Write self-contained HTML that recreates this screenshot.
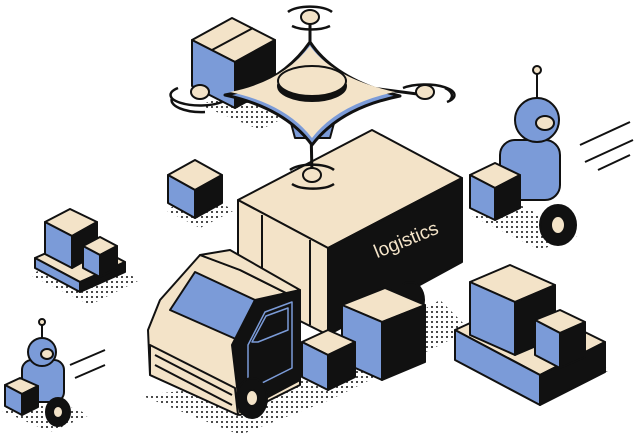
<!DOCTYPE html>
<html><head><meta charset="utf-8"><style>
html,body{margin:0;padding:0;background:#fff;width:635px;height:439px;overflow:hidden}
svg{display:block}
</style></head><body>
<svg width="635" height="439" viewBox="0 0 635 439" xmlns="http://www.w3.org/2000/svg" stroke="#111" stroke-width="2" stroke-linejoin="round">
<defs>
<pattern id="d" width="5" height="5" patternUnits="userSpaceOnUse"><circle cx="2" cy="2" r="1" fill="#111" stroke="none"/></pattern>
</defs>
<g stroke="none" fill="url(#d)">
<polygon points="30,275 90,305 140,280 80,250"/>
<polygon points="470,365 540,405 610,370 540,330"/>
<polygon points="140,395 240,435 330,400 470,330 440,300 300,380"/>
<polygon points="165,210 200,228 235,210 200,195"/>
<polygon points="470,215 540,250 580,235 520,205"/>
<polygon points="0,410 50,432 90,415 40,395"/>
<polygon points="200,105 260,130 300,110 240,90"/>
</g>
<!-- left pallet boxes -->
<polygon points="35,258 80,282 125,262 80,238" fill="#f3e3c8"/>
<polygon points="35,258 80,282 80,292 35,268" fill="#7b9bd8"/>
<polygon points="80,282 125,262 125,272 80,292" fill="#111"/>
<polygon points="45,222 70,209 97,222 72,236" fill="#f3e3c8"/>
<polygon points="45,222 72,236 72,268 45,254" fill="#7b9bd8"/>
<polygon points="72,236 97,222 97,254 72,268" fill="#111"/>
<polygon points="83,246 100,237 117,246 100,255" fill="#f3e3c8"/>
<polygon points="83,246 100,255 100,277 83,268" fill="#7b9bd8"/>
<polygon points="100,255 117,246 117,268 100,277" fill="#111"/>
<!-- small box -->
<polygon points="168,175 195,160 222,175 195,190" fill="#f3e3c8"/>
<polygon points="168,175 195,190 195,218 168,203" fill="#7b9bd8"/>
<polygon points="195,190 222,175 222,203 195,218" fill="#111"/>
<!-- truck body -->
<polygon points="238,200 372,130 462,178 328,248" fill="#f3e3c8"/>
<polygon points="238,200 328,248 328,335 238,290" fill="#f3e3c8"/>
<polygon points="328,248 462,178 462,262 328,335" fill="#111"/>
<line x1="262" y1="215" x2="262" y2="300"/><line x1="310" y1="240" x2="310" y2="325"/>
<text x="370" y="248" fill="#f3e3c8" stroke="none" font-family="Liberation Sans, sans-serif" font-size="19" transform="rotate(-22 400 235)">logistics</text>
<ellipse cx="410" cy="300" rx="14" ry="18" fill="#111"/>
<!-- cab -->
<polygon points="160,300 200,255 240,270 300,300 300,385 240,415 150,375 148,330" fill="#f3e3c8"/>
<polygon points="170,310 195,272 255,300 238,340" fill="#7b9bd8"/>
<polygon points="200,255 230,250 300,290 300,300 240,270" fill="#f3e3c8"/>
<polygon points="232,345 255,300 300,290 300,380 240,412" fill="#111"/>
<polygon points="248,345 265,312 292,302 292,368 248,390" fill="none" stroke="#7b9bd8" stroke-width="1.5"/>
<polygon points="252,342 266,316 288,308 288,330 258,342" fill="#111" stroke="#7b9bd8" stroke-width="1.5"/>
<polygon points="150,345 235,388 238,415 150,375" fill="#f3e3c8"/>
<line x1="155" y1="355" x2="232" y2="395"/><line x1="155" y1="365" x2="232" y2="405"/>
<ellipse cx="252" cy="398" rx="15" ry="20" fill="#111"/><ellipse cx="252" cy="398" rx="6" ry="8" fill="#f3e3c8"/>
<!-- front boxes -->
<polygon points="342,305 385,288 425,305 382,322" fill="#f3e3c8"/>
<polygon points="342,305 382,322 382,380 342,362" fill="#7b9bd8"/>
<polygon points="382,322 425,305 425,362 382,380" fill="#111"/>
<polygon points="302,342 328,330 355,342 328,355" fill="#f3e3c8"/>
<polygon points="302,342 328,355 328,390 302,377" fill="#7b9bd8"/>
<polygon points="328,355 355,342 355,377 328,390" fill="#111"/>
<!-- right pallet -->
<polygon points="455,330 540,375 605,342 520,300" fill="#f3e3c8"/>
<polygon points="455,330 540,375 540,405 455,360" fill="#7b9bd8"/>
<polygon points="540,375 605,342 605,372 540,405" fill="#111"/>
<polygon points="470,282 510,265 555,285 515,302" fill="#f3e3c8"/>
<polygon points="470,282 515,302 515,355 470,335" fill="#7b9bd8"/>
<polygon points="515,302 555,285 555,338 515,355" fill="#111"/>
<polygon points="535,320 560,310 585,322 560,333" fill="#f3e3c8"/>
<polygon points="535,320 560,333 560,368 535,355" fill="#7b9bd8"/>
<polygon points="560,333 585,322 585,357 560,368" fill="#111"/>
<!-- drone -->
<g stroke-width="3">
<line x1="310" y1="80" x2="200" y2="95"/><line x1="310" y1="80" x2="425" y2="95"/>
<line x1="310" y1="80" x2="310" y2="20"/><line x1="310" y1="80" x2="312" y2="175"/>
</g>
<polygon points="192,40 232,18 275,40 235,62" fill="#f3e3c8"/>
<polygon points="192,40 235,62 235,108 192,86" fill="#7b9bd8"/>
<polygon points="235,62 275,40 275,86 235,108" fill="#111"/>
<line x1="212" y1="50" x2="253" y2="28"/>
<polygon points="288,112 337,112 330,138 295,138" fill="#7b9bd8"/>
<path d="M225,95 Q280,85 310,42 Q335,80 400,96 Q340,108 312,145 Q285,108 225,95 Z" fill="#7b9bd8" stroke-width="3"/>
<path d="M230,92 Q282,82 310,46 Q333,78 395,92 Q338,104 312,138 Q286,104 230,92 Z" fill="#f3e3c8" stroke="none"/>
<ellipse cx="312" cy="86" rx="34" ry="15" fill="#111"/>
<ellipse cx="312" cy="81" rx="34" ry="15" fill="#f3e3c8"/>
<g fill="none" stroke-width="2.5">
<path d="M178,88 A28,10 0 0 0 222,102"/><path d="M172,98 A30,12 0 0 0 205,112"/>
<path d="M403,88 A28,10 0 0 1 447,102"/><path d="M445,88 A30,12 0 0 1 450,100"/>
<path d="M288,12 A24,9 0 0 1 332,12"/><path d="M292,26 A24,9 0 0 0 330,26"/>
<path d="M290,170 A24,9 0 0 1 334,170"/><path d="M292,184 A24,9 0 0 0 334,184"/>
</g>
<ellipse cx="200" cy="92" rx="9" ry="7" fill="#f3e3c8"/>
<ellipse cx="425" cy="92" rx="9" ry="7" fill="#f3e3c8"/>
<ellipse cx="310" cy="17" rx="9" ry="7" fill="#f3e3c8"/>
<ellipse cx="312" cy="175" rx="9" ry="7" fill="#f3e3c8"/>
<!-- right robot -->
<line x1="537" y1="68" x2="537" y2="100"/><circle cx="537" cy="70" r="4" fill="#f3e3c8"/>
<rect x="500" y="140" width="60" height="60" rx="15" fill="#7b9bd8"/>
<circle cx="537" cy="120" r="22" fill="#7b9bd8"/>
<ellipse cx="545" cy="123" rx="9" ry="7" fill="#f3e3c8"/>
<polygon points="470,175 495,163 520,175 495,188" fill="#f3e3c8"/>
<polygon points="470,175 495,188 495,220 470,208" fill="#7b9bd8"/>
<polygon points="495,188 520,175 520,208 495,220" fill="#111"/>
<ellipse cx="558" cy="225" rx="18" ry="20" fill="#111"/><ellipse cx="558" cy="225" rx="7" ry="9" fill="#f3e3c8"/>
<line x1="580" y1="145" x2="630" y2="122"/><line x1="585" y1="162" x2="633" y2="140"/><line x1="598" y1="170" x2="630" y2="155"/>
<!-- small robot -->
<line x1="42" y1="320" x2="42" y2="342"/><circle cx="42" cy="322" r="3" fill="#f3e3c8"/>
<rect x="22" y="360" width="42" height="42" rx="10" fill="#7b9bd8"/>
<circle cx="42" cy="352" r="14" fill="#7b9bd8"/><ellipse cx="47" cy="354" rx="6" ry="5" fill="#f3e3c8"/>
<polygon points="5,385 20,378 38,386 22,394" fill="#f3e3c8"/>
<polygon points="5,385 22,394 22,415 5,406" fill="#7b9bd8"/>
<polygon points="22,394 38,386 38,407 22,415" fill="#111"/>
<ellipse cx="58" cy="412" rx="12" ry="14" fill="#111"/><ellipse cx="58" cy="412" rx="5" ry="6" fill="#f3e3c8"/>
<line x1="70" y1="365" x2="105" y2="350"/><line x1="75" y1="378" x2="105" y2="365"/>
</svg>
</body></html>
